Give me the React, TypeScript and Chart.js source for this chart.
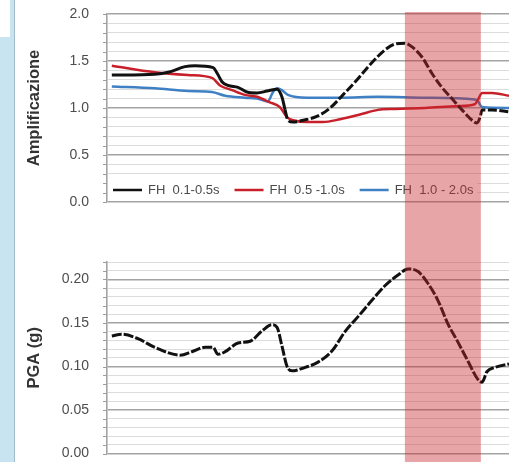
import React, { useEffect, useRef } from "react";
import { Chart, registerables } from "chart.js";

Chart.register(...registerables);

// Position along the profile (unlabelled horizontal axis, 0–100)
const fh1X = [1.2, 11.9, 15.2, 19.4, 21.9, 26.4, 27.4, 28.6, 30.1, 32.6, 34.8, 37.3, 39.8, 42.3, 43.5, 44.3, 45.0, 46.3, 48.8, 52.2, 55.5, 58.7, 62.2, 65.4, 69.2, 71.6, 74.1, 75.9, 78.4, 80.8, 83.3, 85.8, 88.3, 90.8, 92.0, 92.8, 93.3, 95.8, 100];
const fh1Y = [1.35, 1.36, 1.38, 1.44, 1.45, 1.43, 1.37, 1.28, 1.24, 1.22, 1.17, 1.16, 1.18, 1.2, 1.12, 0.98, 0.87, 0.85, 0.87, 0.91, 1.0, 1.14, 1.3, 1.46, 1.62, 1.68, 1.69, 1.65, 1.54, 1.37, 1.22, 1.1, 0.98, 0.87, 0.84, 0.9, 0.98, 0.98, 0.96];

const fh2X = [1.2, 11.9, 20.1, 26.1, 28.1, 31.1, 34.3, 37.3, 40.5, 43.0, 44.8, 46.3, 49.8, 53.7, 58.0, 62.9, 67.4, 71.6, 79.1, 87.3, 91.5, 92.3, 93.3, 95.8, 100];
const fh2Y = [1.45, 1.38, 1.35, 1.32, 1.24, 1.19, 1.14, 1.12, 1.06, 1.01, 0.9, 0.87, 0.85, 0.85, 0.88, 0.93, 0.98, 0.99, 1.0, 1.02, 1.04, 1.09, 1.16, 1.16, 1.13];

const fh3X = [1.2, 11.9, 20.1, 26.1, 29.4, 34.3, 37.3, 40.0, 41.3, 42.3, 43.5, 45.0, 49.8, 58.0, 67.4, 79.1, 91.5, 92.3, 93.3, 100];
const fh3Y = [1.23, 1.21, 1.18, 1.17, 1.13, 1.11, 1.1, 1.07, 1.17, 1.21, 1.19, 1.14, 1.11, 1.11, 1.12, 1.11, 1.09, 1.07, 1.01, 1.0];

const pgaX = [1.2, 3.7, 7.7, 11.9, 18.2, 21.1, 24.4, 26.4, 27.6, 29.4, 32.6, 35.6, 38.6, 41.0, 42.3, 43.5, 44.8, 46.0, 49.3, 52.5, 56.0, 59.2, 62.4, 65.9, 69.2, 72.4, 74.9, 77.4, 79.9, 82.3, 84.8, 87.3, 89.8, 92.3, 93.3, 94.5, 96.5, 100];
const pgaY = [0.135, 0.137, 0.132, 0.122, 0.113, 0.117, 0.122, 0.122, 0.114, 0.117, 0.127, 0.129, 0.141, 0.148, 0.145, 0.124, 0.1, 0.095, 0.099, 0.105, 0.118, 0.14, 0.157, 0.176, 0.193, 0.205, 0.212, 0.209, 0.195, 0.176, 0.149, 0.128, 0.106, 0.085, 0.082, 0.094, 0.099, 0.103];

// Highlighted range (start, end) on the horizontal axis
const bandRange = [74.1, 93.0];

const legendLabels = ["FH  0.1-0.5s", "FH  0.5 -1.0s", "FH  1.0 - 2.0s"];
const ampTickLabels = ["0.0", "0.5", "1.0", "1.5", "2.0"];
const pgaTickLabels = ["0.00", "0.05", "0.10", "0.15", "0.20"];
const ampRange = [0, 2.0, 0.1]; // min, max, minor step
const pgaRange = [0, 0.22, 0.01];

const FONT = "'Liberation Sans', Arial, Helvetica, sans-serif";
const COLORS = ["#111111", "#C8202A", "#3F80C4"];

const pts = (xs: number[], ys: number[]) => xs.map((x, i) => ({ x, y: ys[i] }));

function minorTicks(r: number[]) {
  const [min, max, step] = r;
  const n = Math.round((max - min) / step);
  const out: { value: number }[] = [];
  for (let i = 0; i <= n; i++) out.push({ value: +(min + i * step).toFixed(6) });
  return out;
}

function findLabel(labels: string[], v: number) {
  const l = labels.find((s) => Math.abs(parseFloat(s) - v) < 1e-6);
  return l === undefined ? "" : l;
}

const tickMarkPlugin = {
  id: "tickMarks",
  afterDatasetsDraw(chart: any) {
    const ys = chart.scales.y;
    const ctx = chart.ctx;
    const left = chart.chartArea.left;
    ctx.save();
    ctx.strokeStyle = "#9c9c9c";
    ctx.lineWidth = 1;
    ys.ticks.forEach((t: any) => {
      const y = Math.round(ys.getPixelForValue(t.value)) + 0.5;
      ctx.beginPath();
      ctx.moveTo(left - 4, y);
      ctx.lineTo(left, y);
      ctx.stroke();
    });
    ctx.restore();
  },
};

function bandPlugin(offsetTop: boolean) {
  return {
    id: "band",
    afterDraw(chart: any) {
      const xs = chart.scales.x;
      const x0 = xs.getPixelForValue(bandRange[0]);
      const x1 = xs.getPixelForValue(bandRange[1]);
      const top = offsetTop ? chart.chartArea.top - 2 : 0;
      const ctx = chart.ctx;
      ctx.save();
      ctx.fillStyle = "rgba(200,40,45,0.42)";
      ctx.fillRect(x0, top, x1 - x0, chart.height - top);
      ctx.restore();
    },
  };
}

const legendPlugin = {
  id: "customLegend",
  afterDatasetsDraw(chart: any) {
    const ctx = chart.ctx;
    const ca = chart.chartArea;
    const y = ca.bottom - 12;
    ctx.save();
    ctx.font = `13px ${FONT}`;
    let x = ca.left + 6;
    const items = legendLabels.map((label, i) => {
      const w = ctx.measureText(label).width;
      const item = { label, x, w, color: COLORS[i] };
      x += 35 + w + 15;
      return item;
    });
    const last = items[items.length - 1];
    ctx.fillStyle = "#ffffff";
    ctx.fillRect(ca.left + 1, y - 11, last.x + 35 + last.w + 4 - (ca.left + 1), 21);
    items.forEach((it) => {
      ctx.strokeStyle = it.color;
      ctx.lineWidth = 2.5;
      ctx.beginPath();
      ctx.moveTo(it.x, y);
      ctx.lineTo(it.x + 29, y);
      ctx.stroke();
      ctx.fillStyle = "#4a4a4a";
      ctx.textBaseline = "middle";
      ctx.textAlign = "left";
      ctx.fillText(it.label, it.x + 35, y + 0.5);
    });
    ctx.restore();
  },
};

function yScale(range: number[], labels: string[], title: string, majorStep: number) {
  const isMajor = (v: number) => Math.abs(v / majorStep - Math.round(v / majorStep)) < 1e-6;
  return {
    type: "linear",
    min: range[0],
    max: range[1],
    afterBuildTicks: (scale: any) => {
      scale.ticks = minorTicks(range);
    },
    afterFit: (scale: any) => {
      scale.width = 107;
    },
    ticks: {
      autoSkip: false,
      padding: 0,
      color: "#4d4d4d",
      font: { family: FONT, size: 14 },
      callback: (v: number) => findLabel(labels, v),
    },
    grid: {
      drawTicks: true,
      tickLength: 18,
      tickColor: "rgba(0,0,0,0)",
      color: (c: any) => (c.tick && isMajor(c.tick.value) ? "#a3a3a3" : "#dcdcdc"),
      lineWidth: (c: any) => (c.tick && isMajor(c.tick.value) ? 1.6 : 1),
    },
    border: { display: true, color: "#a3a3a3", width: 1.6 },
    title: {
      display: true,
      text: title,
      color: "#333333",
      font: { family: FONT, size: 16.5, weight: "bold" },
      padding: { top: 25, bottom: 0 },
    },
  };
}

const xScale = {
  type: "linear",
  min: 0,
  max: 100,
  display: false,
};

function baseOptions(padding: any, y: any) {
  return {
    responsive: false,
    devicePixelRatio: 1,
    animation: false,
    layout: { padding },
    plugins: { legend: { display: false }, tooltip: { enabled: false } },
    elements: { point: { radius: 0 } },
    scales: { x: xScale, y },
  };
}

export default function App() {
  const topRef = useRef<HTMLCanvasElement>(null);
  const botRef = useRef<HTMLCanvasElement>(null);

  useEffect(() => {
    const top = new Chart(topRef.current as HTMLCanvasElement, {
      type: "line",
      data: {
        datasets: [
          {
            label: legendLabels[0],
            data: pts(fh1X, fh1Y),
            borderColor: COLORS[0],
            borderWidth: 3,
            cubicInterpolationMode: "monotone",
            segment: {
              borderDash: (c: any) => (c.p0.parsed.x >= 44 ? [9, 2.5] : undefined),
            },
          },
          {
            label: legendLabels[1],
            data: pts(fh2X, fh2Y),
            borderColor: COLORS[1],
            borderWidth: 2.5,
            cubicInterpolationMode: "monotone",
          },
          {
            label: legendLabels[2],
            data: pts(fh3X, fh3Y),
            borderColor: COLORS[2],
            borderWidth: 2.5,
            cubicInterpolationMode: "monotone",
          },
        ],
      },
      options: baseOptions({ left: 0, right: 5, top: 14, bottom: 29 }, yScale(ampRange, ampTickLabels, "Amplificazione", 0.5)) as any,
      plugins: [tickMarkPlugin, legendPlugin, bandPlugin(true)],
    } as any);

    const bot = new Chart(botRef.current as HTMLCanvasElement, {
      type: "line",
      data: {
        datasets: [
          {
            label: "PGA",
            data: pts(pgaX, pgaY),
            borderColor: COLORS[0],
            borderWidth: 3,
            borderDash: [10, 2],
            cubicInterpolationMode: "monotone",
          },
        ],
      },
      options: baseOptions({ left: 0, right: 5, top: 31, bottom: 8 }, yScale(pgaRange, pgaTickLabels, "PGA (g)", 0.05)) as any,
      plugins: [tickMarkPlugin, bandPlugin(false)],
    } as any);

    return () => {
      top.destroy();
      bot.destroy();
    };
  }, []);

  return (
    <div style={{ position: "fixed", left: 0, top: 0, width: 514, height: 462, background: "#ffffff", overflow: "hidden" }}>
      <div style={{ position: "absolute", left: 0, top: 0, width: 14, height: 462, background: "#C7E4F0", borderRight: "1.5px solid #A2BAC6" }} />
      <div style={{ position: "absolute", left: 0, top: 0, width: 10, height: 37, background: "#ffffff" }} />
      <canvas ref={topRef} width={514} height={231} style={{ position: "absolute", left: 0, top: 0, width: 514, height: 231 }} />
      <canvas ref={botRef} width={514} height={231} style={{ position: "absolute", left: 0, top: 231, width: 514, height: 231 }} />
    </div>
  );
}
